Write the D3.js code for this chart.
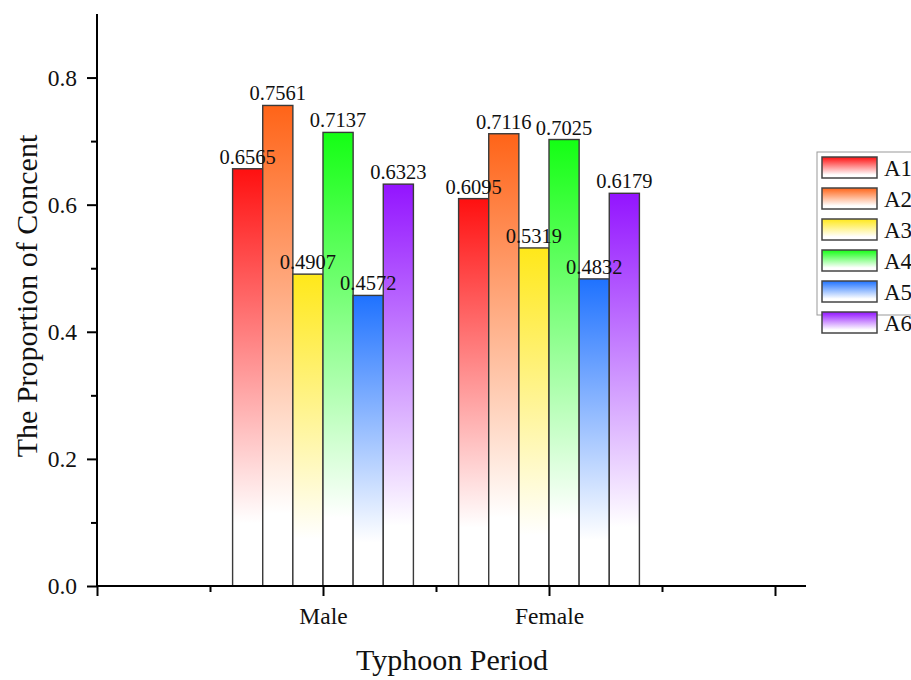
<!DOCTYPE html>
<html>
<head>
<meta charset="utf-8">
<script src="https://cdn.jsdelivr.net/npm/d3@7"></script>
<style>
  body { margin: 0; background: #fff; }
  svg { font-family: "Liberation Serif", "Times New Roman", serif; }
</style>
</head>
<body>
<svg id="chart" width="911" height="680"></svg>
<script>
const groups = ["Male", "Female"],
    series = ["A1", "A2", "A3", "A4", "A5", "A6"],
    maleValues = [0.6565, 0.7561, 0.4907, 0.7137, 0.4572, 0.6323],
    femaleValues = [0.6095, 0.7116, 0.5319, 0.7025, 0.4832, 0.6179],
    yTicks = [0, 0.2, 0.4, 0.6, 0.8],
    colors = ["#ff1010", "#ff6418", "#ffe81a", "#14ff14", "#1f72ff", "#9314ff"];

const values = [maleValues, femaleValues];

const svg = d3.select("#chart"),
    x0 = 97, x1 = 806,
    yTop = 14, yBottom = 586;

// x is a linear axis: group i sits at i + 1
const xScale = d3.scaleLinear().domain([0, (x1 - x0) / 226]).range([x0, x1]);
const yScale = d3.scaleLinear().domain([0, 0.9]).range([yBottom, yTop]);
const groupWidth = 0.8;
const barScale = d3.scaleBand().domain(series).range([0, xScale(groupWidth) - xScale(0)]);

// gradients, one per series
const defs = svg.append("defs");
series.forEach(function(s, i) {
    const grad = defs.append("linearGradient")
        .attr("id", "grad" + i)
        .attr("x1", 0).attr("y1", 0).attr("x2", 0).attr("y2", 1);
    grad.append("stop").attr("offset", "0").attr("stop-color", colors[i]);
    grad.append("stop").attr("offset", "0.85").attr("stop-color", "#ffffff");
    grad.append("stop").attr("offset", "1").attr("stop-color", "#ffffff");
});

// bars
const g = svg.append("g");
groups.forEach(function(grp, gi) {
    const left = xScale(gi + 1 - groupWidth / 2);
    const bars = g.append("g").attr("transform", "translate(" + left + ",0)");
    bars.selectAll("rect")
        .data(values[gi])
        .enter().append("rect")
        .attr("x", function(d, i) { return barScale(series[i]); })
        .attr("y", function(d) { return yScale(d); })
        .attr("width", barScale.bandwidth())
        .attr("height", function(d) { return yBottom - yScale(d); })
        .attr("fill", function(d, i) { return "url(#grad" + i + ")"; })
        .attr("stroke", "#3a3a3a")
        .attr("stroke-width", 1.4);
    bars.selectAll("text")
        .data(values[gi])
        .enter().append("text")
        .attr("x", function(d, i) { return barScale(series[i]) + barScale.bandwidth() / 2; })
        .attr("y", function(d) { return yScale(d) - 5; })
        .attr("text-anchor", "middle")
        .attr("font-size", 20.5)
        .attr("fill", "#111")
        .text(function(d) { return d.toFixed(4); });
});

// y axis
svg.append("g")
    .attr("transform", "translate(" + x0 + ",0)")
    .call(d3.axisLeft(yScale).tickValues(yTicks).tickFormat(d3.format(".1f")).tickSize(10).tickPadding(10));
svg.append("g")
    .attr("transform", "translate(" + x0 + ",0)")
    .call(d3.axisLeft(yScale).tickValues([0.1, 0.3, 0.5, 0.7]).tickFormat("").tickSize(6));

// x axis
svg.append("g")
    .attr("transform", "translate(0," + yBottom + ")")
    .call(d3.axisBottom(xScale).tickValues([0, 1, 2, 3])
        .tickFormat(function(d) { return groups[d - 1] || ""; })
        .tickSize(10).tickPadding(11));
svg.append("g")
    .attr("transform", "translate(0," + yBottom + ")")
    .call(d3.axisBottom(xScale).tickValues([0.5, 1.5, 2.5]).tickFormat("").tickSize(6));

svg.selectAll(".domain").attr("d", null);
svg.selectAll(".tick line").attr("stroke", "#000").attr("stroke-width", 2);
svg.selectAll(".tick text")
    .attr("font-family", "Liberation Serif, serif")
    .attr("font-size", 23.5)
    .attr("fill", "#111");

// axis lines
svg.append("line").attr("x1", x0).attr("x2", x0).attr("y1", yTop).attr("y2", yBottom + 1)
    .attr("stroke", "#000").attr("stroke-width", 2);
svg.append("line").attr("x1", x0 - 1).attr("x2", x1).attr("y1", yBottom).attr("y2", yBottom)
    .attr("stroke", "#000").attr("stroke-width", 2);

// axis titles
svg.append("text")
    .attr("transform", "translate(37,296) rotate(-90)")
    .attr("text-anchor", "middle")
    .attr("font-size", 30)
    .attr("fill", "#111")
    .text("The Proportion of Concent");
svg.append("text")
    .attr("x", 452).attr("y", 670)
    .attr("text-anchor", "middle")
    .attr("font-size", 30)
    .attr("fill", "#111")
    .text("Typhoon Period");

// legend (runs off the right edge, as in the original)
const legend = svg.append("g").attr("transform", "translate(817,152)");
legend.append("rect")
    .attr("x", 0).attr("y", 0).attr("width", 120).attr("height", 163)
    .attr("fill", "#fff").attr("stroke", "#999").attr("stroke-width", 1);
const item = legend.selectAll(".item")
    .data(series)
    .enter().append("g")
    .attr("transform", function(d, i) { return "translate(5," + (5 + i * 31) + ")"; });
item.append("rect")
    .attr("width", 55).attr("height", 21)
    .attr("fill", function(d, i) { return "url(#grad" + i + ")"; })
    .attr("stroke", "#444").attr("stroke-width", 1.5);
item.append("text")
    .attr("x", 62).attr("y", 19)
    .attr("font-size", 23)
    .attr("fill", "#111")
    .text(function(d) { return d; });
</script>
</body>
</html>
